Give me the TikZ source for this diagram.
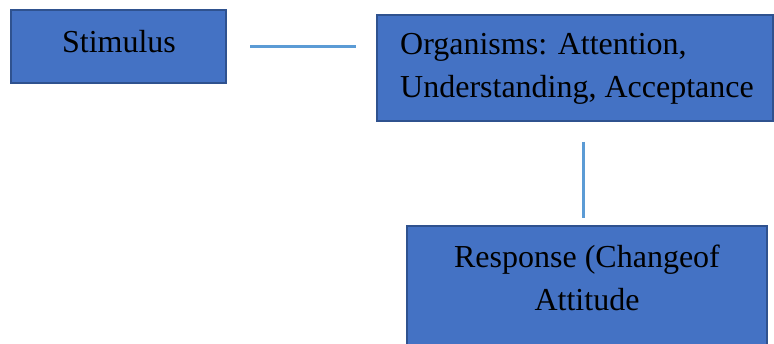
\documentclass[tikz,border=0pt]{standalone}
\usepackage{fontspec}
\setmainfont{Liberation Serif}
\definecolor{boxfill}{HTML}{4472C4}
\definecolor{boxline}{HTML}{2F528F}
\definecolor{conn}{HTML}{5B9BD5}
\begin{document}
\begin{tikzpicture}[x=1pt,y=1pt,
  box/.style={draw=boxline,line width=1.5pt,fill=boxfill,rectangle,inner sep=0pt},
  txt/.style={font=\fontsize{32}{43}\selectfont,inner sep=0pt},
  conline/.style={draw=conn,line width=3pt}]
\useasboundingbox (0,0) rectangle (774,-344);
\node[box,minimum width=215pt,minimum height=73pt] (s) at (118.5,-46.5) {};
\node[box,minimum width=396pt,minimum height=106pt] (o) at (575,-68) {};
\node[box,minimum width=360pt,minimum height=140pt] (r) at (587,-296) {};
\node[txt,anchor=base] (st) at (119,-53) {Stimulus};
\node[txt,anchor=base west] (ot1) at (400,-55) {Organisms: Attention,};
\node[txt,anchor=base west] (ot2) at (400,-98) {Understanding, Acceptance};
\node[txt,anchor=base] (rt1) at (587,-268) {Response (Changeof};
\node[txt,anchor=base] (rt2) at (587,-311) {Attitude};
\coordinate (h1) at (250,-47);
\coordinate (h2) at (356,-47);
\coordinate (v1) at (583,-142);
\coordinate (v2) at (583,-218);
\draw[conline] (h1) -- (h2);
\draw[conline] (v1) -- (v2);
\end{tikzpicture}
\end{document}
